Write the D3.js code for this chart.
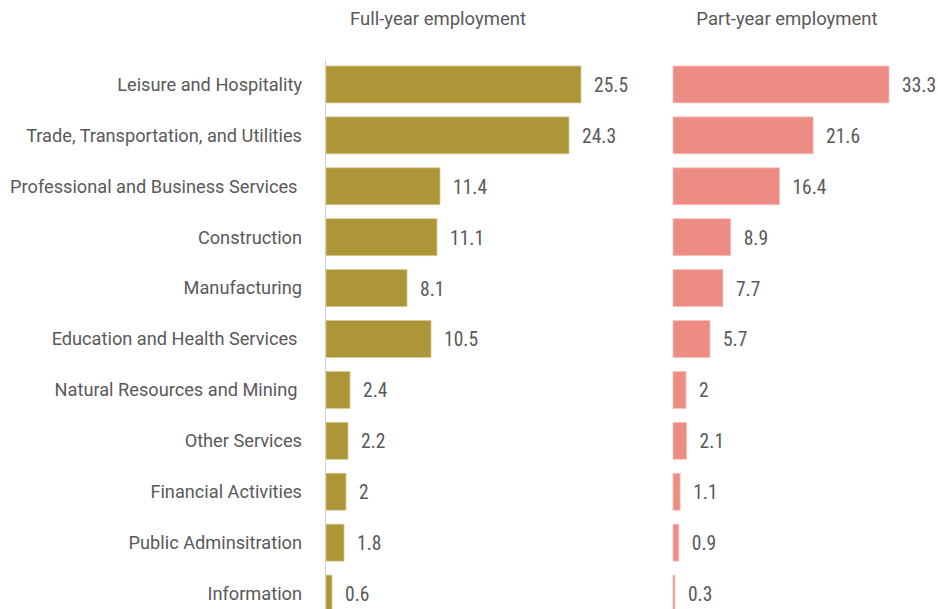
<!DOCTYPE html>
<html>
<head>
<meta charset="utf-8">
<script src="https://cdn.jsdelivr.net/npm/d3@7"></script>
<style>
  html, body { margin: 0; padding: 0; background: #fff; }
  svg text { fill: #595959; }
  .cat, .title { font-family: Roboto, "Liberation Sans", sans-serif; }
  .val { font-family: "Roboto Condensed", "Liberation Sans Narrow", Roboto, sans-serif; }
</style>
</head>
<body>
<svg id="chart" width="938" height="609"></svg>
<script>
// Industry categories, top to bottom
const industries = [
  "Leisure and Hospitality",
  "Trade, Transportation, and Utilities",
  "Professional and Business Services ",
  "Construction",
  "Manufacturing",
  "Education and Health Services ",
  "Natural Resources and Mining ",
  "Other Services",
  "Financial Activities",
  "Public Adminsitration",
  "Information"
];
// Share of workers by industry (%)
const fullYear = [25.5, 24.3, 11.4, 11.1, 8.1, 10.5, 2.4, 2.2, 2, 1.8, 0.6];
const partYear = [33.3, 21.6, 16.4, 8.9, 7.7, 5.7, 2, 2.1, 1.1, 0.9, 0.3];
const panelTitles = ["Full-year employment", "Part-year employment"];

const svg = d3.select("#chart");

const y = d3.scaleBand()
  .domain(industries)
  .range([59, 619])
  .paddingInner(0.275)
  .paddingOuter(0.1375);

const xFull = d3.scaleLinear().domain([0, 25.5]).range([326, 581]);
const xPart = d3.scaleLinear().domain([0, 33.3]).range([673, 889]);

// Category labels
svg.append("g").selectAll("text")
  .data(industries)
  .join("text")
  .attr("class", "cat")
  .attr("x", 302)
  .attr("y", d => y(d) + y.bandwidth() / 2)
  .attr("dy", "0.35em")
  .attr("text-anchor", "end")
  .style("white-space", "pre")
  .attr("xml:space", "preserve")
  .style("font-size", "18.2px")
  .text(d => d);

function panel(values, x, color, stroke, title, withAxis) {
  const g = svg.append("g");
  const x0 = x(0);
  if (withAxis) {
    g.append("line")
      .attr("x1", x0 - 0.5).attr("x2", x0 - 0.5)
      .attr("y1", 59).attr("y2", 609)
      .attr("stroke", "#d0d0d0").attr("stroke-width", 1);
  }
  g.selectAll("rect")
    .data(values)
    .join("rect")
    .attr("x", x0)
    .attr("y", (d, i) => y(industries[i]))
    .attr("width", d => x(d) - x0)
    .attr("height", y.bandwidth())
    .attr("fill", color)
    .attr("stroke", stroke)
    .attr("stroke-width", 0.8);
  g.selectAll("text.val")
    .data(values)
    .join("text")
    .attr("class", "val")
    .attr("x", d => x(d) + 13)
    .attr("y", (d, i) => y(industries[i]) + y.bandwidth() / 2)
    .attr("dy", "0.38em")
    .style("font-size", "19.5px")
    .text(d => d);
  g.append("text")
    .attr("class", "title")
    .attr("x", title.cx)
    .attr("y", 25)
    .attr("text-anchor", "middle")
    .style("font-size", "18.5px")
    .text(title.text);
}

panel(fullYear, xFull, "#ad9637", "#d8c98e", {text: panelTitles[0], cx: 438}, true);
panel(partYear, xPart, "#ec8c84", "#f6c1bc", {text: panelTitles[1], cx: 787}, false);
</script>
</body>
</html>
